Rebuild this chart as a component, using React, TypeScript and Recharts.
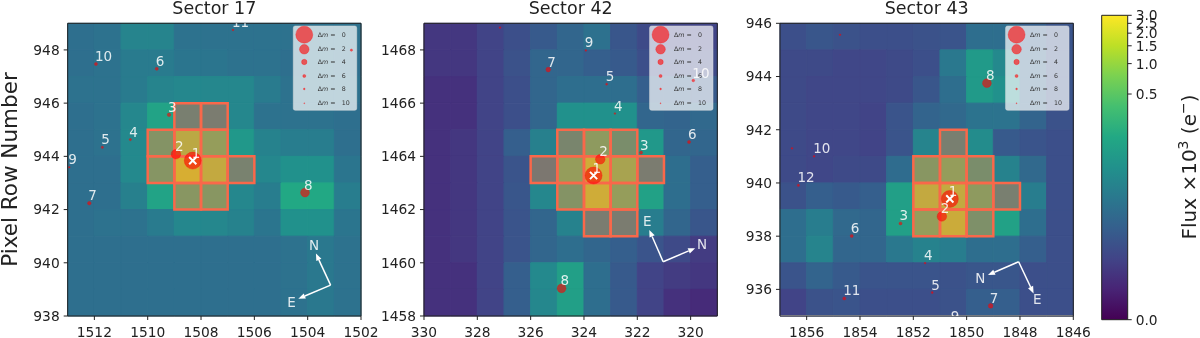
import React from "react";
import {
  ComposedChart,
  ReferenceArea,
  ReferenceLine,
  Scatter,
  XAxis,
  YAxis,
} from "recharts";

const FONT = "'DejaVu Sans', sans-serif";
const INK = "#222222";

// flux per pixel in e-, rows from the top of the axes down, columns left to right
const flux17 = [
  [34, 37, 64, 64, 37, 37, 37, 37, 37, 37, 37],
  [34, 37, 48, 48, 41, 41, 37, 37, 34, 37, 34],
  [37, 37, 48, 64, 69, 69, 69, 48, 37, 37, 37],
  [34, 37, 69, 162, 92, 80, 69, 37, 37, 37, 34],
  [34, 37, 74, 264, 924, 433, 114, 60, 52, 52, 34],
  [34, 34, 74, 283, 1500, 1062, 106, 69, 92, 92, 41],
  [34, 34, 56, 162, 303, 303, 69, 52, 187, 187, 52],
  [34, 37, 37, 48, 69, 69, 60, 41, 92, 92, 41],
  [34, 34, 34, 34, 34, 34, 34, 34, 37, 45, 37],
  [34, 34, 34, 34, 34, 34, 34, 34, 37, 45, 37],
  [34, 34, 34, 34, 34, 34, 34, 34, 37, 45, 37],
];
const flux42 = [
  [6, 6, 9, 13, 18, 26, 36, 16, 11, 9, 9],
  [6, 6, 9, 14, 26, 26, 21, 18, 13, 13, 11],
  [5, 5, 9, 13, 26, 33, 33, 33, 21, 21, 18],
  [5, 5, 9, 13, 26, 92, 92, 92, 26, 24, 28],
  [5, 6, 9, 21, 56, 131, 375, 187, 114, 26, 26],
  [5, 6, 9, 15, 64, 433, 1308, 651, 80, 33, 21],
  [5, 6, 9, 16, 69, 264, 1308, 433, 151, 33, 21],
  [5, 6, 9, 15, 26, 60, 80, 80, 52, 26, 16],
  [5, 6, 9, 15, 26, 33, 26, 21, 15, 11, 7],
  [5, 5, 9, 21, 74, 141, 33, 18, 9, 7, 6],
  [5, 5, 9, 21, 69, 141, 33, 18, 9, 5, 4],
];
const flux43 = [
  [13, 16, 14, 13, 13, 14, 15, 33, 33, 21, 15],
  [11, 11, 10, 10, 11, 13, 45, 122, 74, 24, 15],
  [11, 10, 10, 10, 11, 16, 33, 122, 92, 26, 15],
  [11, 10, 10, 9, 15, 24, 28, 38, 38, 24, 14],
  [11, 10, 10, 9, 15, 64, 92, 80, 18, 15, 13],
  [11, 10, 11, 11, 31, 303, 433, 187, 60, 28, 13],
  [14, 21, 18, 21, 141, 1062, 1062, 375, 92, 52, 13],
  [33, 52, 28, 26, 141, 433, 1218, 214, 151, 33, 13],
  [33, 64, 26, 26, 45, 60, 52, 33, 33, 21, 13],
  [15, 24, 18, 15, 15, 15, 14, 16, 16, 13, 13],
  [9, 14, 15, 13, 13, 13, 14, 21, 21, 13, 13],
];

// lower corner of each aperture pixel
const aperture17 = [
  [1508, 945], [1507, 945], [1509, 944], [1508, 944], [1507, 944], [1509, 943],
  [1508, 943], [1507, 943], [1506, 943], [1508, 942], [1507, 942],
];
const aperture42 = [
  [324, 1464], [323, 1464], [322, 1464], [325, 1463], [324, 1463], [323, 1463],
  [322, 1463], [321, 1463], [324, 1462], [323, 1462], [322, 1462], [323, 1461], [322, 1461],
];
const aperture43 = [
  [1850, 941], [1851, 940], [1850, 940], [1849, 940], [1851, 939], [1850, 939],
  [1849, 939], [1848, 939], [1851, 938], [1850, 938], [1849, 938],
];

// column, row, delta magnitude, label
const stars17: [number, number, number, string][] = [
  [1508.31, 943.84, 0, "1"], [1508.94, 944.08, 2, "2"], [1509.2, 945.56, 5.5, "3"],
  [1510.65, 944.63, 7, "4"], [1511.7, 944.34, 7, "5"], [1509.66, 947.29, 6, "6"],
  [1512.19, 942.24, 5.5, "7"], [1504.1, 942.64, 2.3, "8"], [1512.94, 943.59, 8, "9"],
  [1511.94, 947.47, 6, "10"], [1506.8, 948.75, 8, "11"], [1502.36, 947.99, 7, ""],
];
const stars42: [number, number, number, string][] = [
  [323.64, 1463.28, 0, "1"], [323.39, 1463.89, 2, "2"], [321.86, 1464.14, 6, "3"],
  [322.84, 1465.61, 8, "4"], [323.15, 1466.71, 7.5, "5"], [320.06, 1464.54, 6, "6"],
  [325.34, 1467.26, 4.5, "7"], [324.84, 1459.04, 2.3, "8"], [323.93, 1467.98, 8, "9"],
  [319.9, 1466.85, 6.5, "10"], [327.15, 1468.84, 8, ""],
];
const stars43: [number, number, number, string][] = [
  [1850.63, 939.4, 0, "1"], [1850.93, 938.74, 2, "2"], [1852.48, 938.48, 6, "3"],
  [1851.56, 936.99, 8, "4"], [1851.29, 935.88, 7.5, "5"], [1854.31, 938.01, 6, "6"],
  [1849.1, 935.38, 4.5, "7"], [1849.24, 943.75, 2.3, "8"], [1850.56, 934.7, 8, "9"],
  [1855.72, 941, 8, "10"], [1854.59, 935.66, 6, "11"], [1856.31, 939.91, 7, "12"],
  [1854.75, 945.57, 8, ""], [1856.55, 941.3, 8, ""],
];

// compass arrows: from, to, letter, letter offset in px
const compass17: [[number, number], [number, number], string, number, number][] = [
  [[1503.14, 939.16], [1503.69, 940.35], "N", -2, -8],
  [[1503.14, 939.16], [1504.35, 938.65], "E", -6.7, 3],
];
const compass42: [[number, number], [number, number], string, number, number][] = [
  [[321.03, 1460.04], [321.55, 1461.23], "E", -2, -9],
  [[321.03, 1460.04], [319.83, 1460.55], "N", 7, -3.7],
];
const compass43: [[number, number], [number, number], string, number, number][] = [
  [[1848.05, 937.04], [1849.2, 936.54], "N", -7.7, 2.7],
  [[1848.05, 937.04], [1847.49, 935.85], "E", 3.7, 6],
];

const xTicks17 = [1502, 1504, 1506, 1508, 1510, 1512];
const yTicks17 = [938, 940, 942, 944, 946, 948];
const xTicks42 = [320, 322, 324, 326, 328, 330];
const yTicks42 = [1458, 1460, 1462, 1464, 1466, 1468];
const xTicks43 = [1846, 1848, 1850, 1852, 1854, 1856];
const yTicks43 = [936, 938, 940, 942, 944, 946];

const legendMags = [0, 2, 4, 6, 8, 10];
const colorbarTicks = [0, 0.5, 1, 1.5, 2, 2.5, 3];

const viridis = [
  "#440154", "#482475", "#414487", "#355f8d", "#2a788e", "#21918c",
  "#22a884", "#44bf70", "#7ad151", "#bddf26", "#fde725",
];

// log stretch of the colour normalisation, flux in 10^3 e-
const stretch = (v: number) => Math.log((1000 * v) / 3 + 1) / Math.log(1001);

function viridisAt(t: number) {
  const pos = Math.min(Math.max(t, 0), 1) * (viridis.length - 1);
  const i = Math.min(Math.floor(pos), viridis.length - 2);
  const hex = (s: string, k: number) => parseInt(s.slice(1 + k * 2, 3 + k * 2), 16);
  const mix = [0, 1, 2].map((k) =>
    Math.round(hex(viridis[i], k) + (hex(viridis[i + 1], k) - hex(viridis[i], k)) * (pos - i))
  );
  return `rgb(${mix.join(",")})`;
}

const markerRadius = (dm: number) => 8.5 * Math.pow(0.75, dm);

function StarMark(props: any) {
  const { cx, cy, payload } = props;
  return (
    <g>
      <circle
        cx={cx}
        cy={cy}
        r={markerRadius(payload.dm)}
        fill="#ff0000"
        fillOpacity={0.6}
        stroke="#ff0000"
        strokeOpacity={0.6}
        strokeWidth={0.5}
      />
      {payload.label && (
        <text
          x={cx - 1}
          y={cy - 3}
          fill="#ffffff"
          fillOpacity={0.85}
          fontSize={13.5}
          fontFamily={FONT}
        >
          {payload.label}
        </text>
      )}
    </g>
  );
}

function TargetCross(props: any) {
  const { cx, cy } = props;
  const d = 3.6;
  return (
    <path
      d={`M${cx - d},${cy - d}L${cx + d},${cy + d}M${cx - d},${cy + d}L${cx + d},${cy - d}`}
      stroke="#ffffff"
      strokeWidth={2}
    />
  );
}

function CompassArrow(props: any) {
  const { x1, y1, x2, y2, letter, dx, dy } = props;
  const a = Math.atan2(y2 - y1, x2 - x1);
  const head = 7;
  const w = 2.8;
  const bx = x2 - head * Math.cos(a);
  const by = y2 - head * Math.sin(a);
  const px = -Math.sin(a) * w;
  const py = Math.cos(a) * w;
  return (
    <g>
      <line x1={x1} y1={y1} x2={bx} y2={by} stroke="#ffffff" strokeWidth={1.5} />
      <polygon
        points={`${x2},${y2} ${bx + px},${by + py} ${bx - px},${by - py}`}
        fill="#ffffff"
      />
      <text
        x={x2 + dx}
        y={y2 + dy}
        fill="#ffffff"
        fillOpacity={0.85}
        fontSize={13.5}
        fontFamily={FONT}
        textAnchor="middle"
        dominantBaseline="central"
      >
        {letter}
      </text>
    </g>
  );
}

function MagLegend(props: any) {
  const { x, y } = props;
  const rows = [8.7, 23.3, 36, 50, 63, 77.3];
  return (
    <g>
      <rect
        x={x}
        y={y}
        width={props.width}
        height={props.height}
        rx={2}
        fill="#ffffff"
        fillOpacity={0.7}
        stroke="#dddddd"
        strokeOpacity={0.6}
        strokeWidth={0.8}
      />
      {legendMags.map((m, i) => (
        <g key={m}>
          <circle
            cx={x + 11}
            cy={y + rows[i]}
            r={markerRadius(m)}
            fill="#ff0000"
            fillOpacity={0.6}
            stroke="#ff0000"
            strokeOpacity={0.6}
            strokeWidth={0.5}
          />
          <text
            x={x + 24.4}
            y={y + rows[i] + 2.2}
            fontSize={6.3}
            fontFamily={FONT}
            fill="#333333"
          >
            Δ<tspan fontStyle="italic">m</tspan> =
          </text>
          <text
            x={x + 48.5}
            y={y + rows[i] + 2.2}
            fontSize={6.3}
            fontFamily={FONT}
            fill="#333333"
          >
            {m}
          </text>
        </g>
      ))}
    </g>
  );
}

interface PanelProps {
  title: string;
  plotLeft: number;
  xStart: number;
  yStart: number;
  flux: number[][];
  aperture: number[][];
  stars: [number, number, number, string][];
  compass: [[number, number], [number, number], string, number, number][];
  xTicks: number[];
  yTicks: number[];
  yLabel?: boolean;
  bottomLine?: boolean;
}

function Panel({
  title,
  plotLeft,
  xStart,
  yStart,
  flux,
  aperture,
  stars,
  compass,
  xTicks,
  yTicks,
  yLabel,
  bottomLine,
}: PanelProps) {
  const plotWidth = 293.3;
  const xMin = xStart - 11;
  const yMax = yStart + 11;
  const starData = stars.map(([x, y, dm, label]) => ({ x, y, dm, label }));
  const target = starData.slice(0, 1);
  const tickStyle = { fontSize: 13.8, fontFamily: FONT, fill: INK };

  return (
    <div style={{ position: "absolute", left: 0, top: 0 }}>
      <ComposedChart
        width={plotLeft + plotWidth + 24}
        height={338}
        margin={{ top: 23.3, right: 24, bottom: 0, left: 0 }}
      >
        <XAxis
          type="number"
          dataKey="x"
          domain={[xMin, xStart]}
          reversed
          ticks={xTicks}
          interval={0}
          height={22}
          allowDataOverflow
          axisLine={false}
          tick={tickStyle}
          tickSize={4}
          tickMargin={7}
          tickLine={{ stroke: INK }}
        />
        <YAxis
          type="number"
          dataKey="y"
          domain={[yStart, yMax]}
          ticks={yTicks}
          interval={0}
          width={plotLeft}
          allowDataOverflow
          axisLine={false}
          tick={tickStyle}
          tickSize={4}
          tickMargin={4}
          tickLine={{ stroke: INK }}
        />

        {flux.map((row, r) =>
          row.map((value, c) => {
            const color = viridisAt(stretch(value / 1000));
            return (
              <ReferenceArea
                key={`${r}-${c}`}
                x1={xStart - c}
                x2={xStart - c - 1}
                y1={yMax - r}
                y2={yMax - r - 1}
                fill={color}
                fillOpacity={1}
                stroke={color}
                strokeWidth={1}
              />
            );
          })
        )}

        {bottomLine && (
          <ReferenceArea
            x1={xMin}
            x2={xStart}
            y1={yStart}
            y2={yStart + 0.03}
            fill="#ffffff"
            fillOpacity={1}
          />
        )}

        {aperture.map(([x, y]) => (
          <ReferenceArea
            key={`ap-${x}-${y}`}
            x1={x}
            x2={x + 1}
            y1={y}
            y2={y + 1}
            fill="#ff6347"
            fillOpacity={0.4}
            stroke="#f9684a"
            strokeWidth={2.5}
          />
        ))}

        <ReferenceArea
          x1={xStart - 8.46}
          x2={xStart - 10.84}
          y1={yMax - 0.1}
          y2={yMax - 3.27}
          shape={<MagLegend />}
        />

        <ReferenceArea
          x1={xMin}
          x2={xStart}
          y1={yStart}
          y2={yMax}
          fill="none"
          stroke={INK}
          strokeWidth={1}
        />

        {compass.map(([from, to, letter, dx, dy]) => (
          <ReferenceLine
            key={letter}
            segment={[
              { x: from[0], y: from[1] },
              { x: to[0], y: to[1] },
            ]}
            shape={(p: any) => <CompassArrow {...p} letter={letter} dx={dx} dy={dy} />}
          />
        ))}

        <Scatter data={starData} shape={<StarMark />} isAnimationActive={false} />
        <Scatter data={target} shape={<TargetCross />} isAnimationActive={false} />

        <text
          x={plotLeft + plotWidth / 2}
          y={14}
          textAnchor="middle"
          fontSize={17.5}
          fontFamily={FONT}
          fill={INK}
        >
          {title}
        </text>
        {yLabel && (
          <text
            transform="translate(17,169.5) rotate(-90)"
            textAnchor="middle"
            fontSize={21.5}
            fontFamily={FONT}
            fill={INK}
          >
            Pixel Row Number
          </text>
        )}
      </ComposedChart>
    </div>
  );
}

function Colorbar() {
  const tickPoints = colorbarTicks.map((v) => ({ x: 1, y: stretch(v) }));
  return (
    <div style={{ position: "absolute", left: 0, top: 0 }}>
      <ComposedChart
        width={1200}
        height={338}
        margin={{ top: 15.3, right: 0, bottom: 18.3, left: 1101.7 }}
      >
        <defs>
          <linearGradient id="viridisBar" x1="0" y1="1" x2="0" y2="0">
            {viridis.map((c, i) => (
              <stop key={c} offset={i / (viridis.length - 1)} stopColor={c} />
            ))}
          </linearGradient>
        </defs>
        <XAxis type="number" dataKey="x" domain={[0, 1]} hide />
        <YAxis
          type="number"
          dataKey="y"
          orientation="right"
          domain={[0, 1]}
          width={72.3}
          ticks={tickPoints.map((p) => p.y)}
          tickFormatter={(t: number) => {
            const hit = colorbarTicks.find((v) => Math.abs(stretch(v) - t) < 1e-6);
            return (hit ?? 0).toFixed(1);
          }}
          interval={0}
          axisLine={false}
          tick={{ fontSize: 13.8, fontFamily: FONT, fill: INK }}
          tickSize={4}
          tickMargin={4}
          tickLine={{ stroke: INK }}
        />
        <ReferenceArea
          x1={0}
          x2={1}
          y1={0}
          y2={1}
          fill="url(#viridisBar)"
          fillOpacity={1}
          stroke={INK}
          strokeWidth={1}
        />
        <Scatter data={tickPoints} shape={() => <g />} isAnimationActive={false} />
        <text
          transform="translate(1196,167) rotate(-90)"
          textAnchor="middle"
          fontSize={20}
          fontFamily={FONT}
          fill={INK}
        >
          Flux ×10
          <tspan dy={-8} fontSize={14}>3</tspan>
          <tspan dy={8}> (e</tspan>
          <tspan dy={-8} fontSize={14}>−</tspan>
          <tspan dy={8}>)</tspan>
        </text>
      </ComposedChart>
    </div>
  );
}

export default function App() {
  return (
    <div
      style={{
        position: "absolute",
        left: 0,
        top: 0,
        width: 1200,
        height: 338,
        overflow: "hidden",
        background: "#ffffff",
        filter: "blur(0.45px)",
      }}
    >
      <Panel
        title="Sector 17"
        plotLeft={67.7}
        xStart={1513}
        yStart={938}
        flux={flux17}
        aperture={aperture17}
        stars={stars17}
        compass={compass17}
        xTicks={xTicks17}
        yTicks={yTicks17}
        yLabel
      />
      <Panel
        title="Sector 42"
        plotLeft={424}
        xStart={330}
        yStart={1458}
        flux={flux42}
        aperture={aperture42}
        stars={stars42}
        compass={compass42}
        xTicks={xTicks42}
        yTicks={yTicks42}
      />
      <Panel
        title="Sector 43"
        plotLeft={780}
        xStart={1857}
        yStart={935}
        flux={flux43}
        aperture={aperture43}
        stars={stars43}
        compass={compass43}
        xTicks={xTicks43}
        yTicks={yTicks43}
        bottomLine
      />
      <Colorbar />
    </div>
  );
}
